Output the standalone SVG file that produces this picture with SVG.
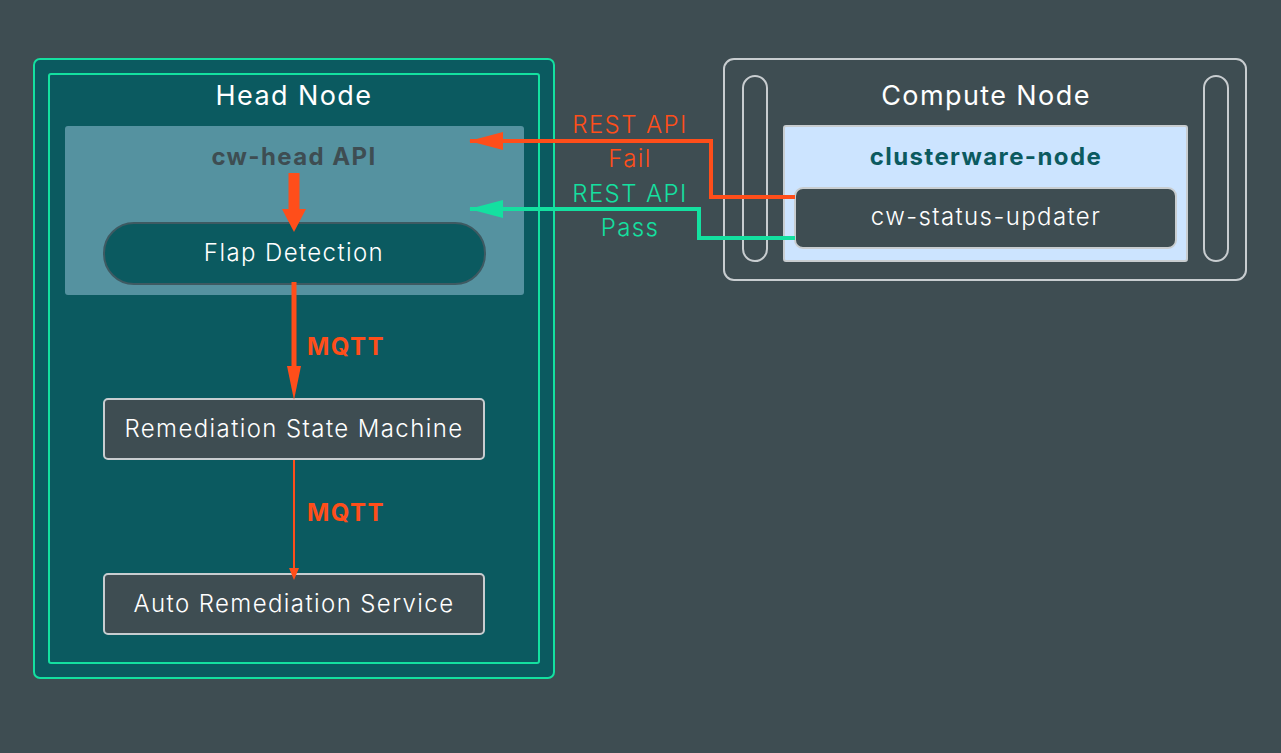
<svg xmlns="http://www.w3.org/2000/svg" width="1281" height="753" viewBox="0 0 1281 753">
<defs>
<style>
text{font-family:Inter,"Noto Sans","Liberation Sans",sans-serif;text-anchor:middle;letter-spacing:1.4px}
.box{fill:#3e4d52;stroke:#c8cdd0;stroke-width:2}
.w{fill:#fff;font-size:24px;font-weight:300}
.o{fill:#ff4e1a}
.g{fill:#14e0a0}
</style>
<marker id="ao" markerWidth="12" markerHeight="12" refX="11" refY="6" orient="auto" markerUnits="userSpaceOnUse" viewBox="0 0 12 12"><path d="M0,0L12,6L0,12z" fill="#ff4e1a"/></marker>
<marker id="aob" markerWidth="34" markerHeight="18" refX="33" refY="9" orient="auto" markerUnits="userSpaceOnUse" viewBox="0 0 34 18"><path d="M0,0L34,9L0,18z" fill="#ff4e1a"/></marker>
<marker id="agb" markerWidth="34" markerHeight="18" refX="33" refY="9" orient="auto" markerUnits="userSpaceOnUse" viewBox="0 0 34 18"><path d="M0,0L34,9L0,18z" fill="#14e0a0"/></marker>
</defs>
<rect width="1281" height="753" fill="#3e4d52"/>
<g id="head-node">
<rect x="34" y="59" width="520" height="619" rx="6" fill="#0b5a60" stroke="#14e0a0" stroke-width="2"/>
<rect x="49" y="74" width="490" height="589" rx="2" fill="none" stroke="#14e0a0" stroke-width="2"/>
<text x="294" y="105" class="w" style="font-size:27px;font-weight:400">Head Node</text>
</g>
<g id="cw-head-api">
<rect x="65" y="126" width="459" height="169" rx="3" fill="#5592a0"/>
<text x="294" y="165" font-size="24" font-weight="bold" fill="#3e4d52" letter-spacing="2">cw-head API</text>
</g>
<g id="flap-detection">
<rect x="104" y="223" width="381" height="61" rx="30" fill="#0b5a60" stroke="#3e5a62" stroke-width="2"/>
<text x="294" y="261" class="w">Flap Detection</text>
</g>
<g id="remediation-state-machine">
<rect x="104" y="399" width="380" height="60" rx="4" class="box"/>
<text x="294" y="437" class="w">Remediation State Machine</text>
</g>
<g id="auto-remediation-service">
<rect x="104" y="574" width="380" height="60" rx="4" class="box"/>
<text x="294" y="612" class="w">Auto Remediation Service</text>
</g>
<g id="compute-node">
<rect x="724" y="59" width="522" height="221" rx="10" fill="none" stroke="#c8cdd0" stroke-width="2"/>
<rect x="743" y="76" width="24" height="185" rx="12" fill="none" stroke="#c8cdd0" stroke-width="2"/>
<rect x="1204" y="76" width="24" height="185" rx="12" fill="none" stroke="#c8cdd0" stroke-width="2"/>
<text x="986" y="105" class="w" style="font-size:27px;font-weight:400">Compute Node</text>
</g>
<g id="clusterware-node">
<rect x="784" y="126" width="403" height="135" rx="2" fill="#cce4ff" stroke="#c8cdd0" stroke-width="2"/>
<text x="986" y="165" font-size="24" font-weight="bold" fill="#0b5a60" letter-spacing="2">clusterware-node</text>
</g>
<g id="cw-status-updater">
<rect x="795" y="188" width="381" height="60" rx="8" class="box"/>
<text x="986" y="225" class="w">cw-status-updater</text>
</g>
<g id="connectors" fill="none">
<path d="M795,197H711V141H470" stroke="#ff4e1a" stroke-width="4" marker-end="url(#aob)"/>
<path d="M795,238H699V209H470" stroke="#14e0a0" stroke-width="4" marker-end="url(#agb)"/>
<path d="M294,173V210" stroke="#ff4e1a" stroke-width="11"/>
<polygon points="282,209 306,209 294,232" fill="#ff4e1a"/>
<path d="M294,282V370" stroke="#ff4e1a" stroke-width="5"/>
<polygon points="287,366 301,366 294,400" fill="#ff4e1a"/>
<path d="M294,460V570" stroke="#ff4e1a" stroke-width="2"/>
<polygon points="289,568 299,568 294,580" fill="#ff4e1a"/>
</g>
<g font-size="24" font-weight="300">
<text x="630" y="133" class="o">REST API</text>
<text x="630" y="167" class="o">Fail</text>
<text x="630" y="202" class="g">REST API</text>
<text x="630" y="236" class="g">Pass</text>
<text x="346" y="355" class="o" font-weight="bold">MQTT</text>
<text x="346" y="521" class="o" font-weight="bold">MQTT</text>
</g>
</svg>
